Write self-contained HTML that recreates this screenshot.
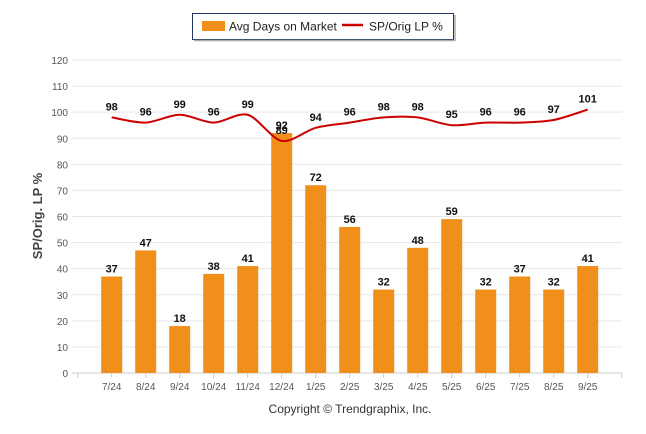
<!DOCTYPE html>
<html><head><meta charset="utf-8"><style>
body{margin:0;background:#fff;}
svg{display:block;font-family:"Liberation Sans",Arial,sans-serif;}
</style></head><body>
<svg id="c" width="646" height="434">
<g>
<rect x="192.5" y="13.5" width="261" height="26" fill="#fff" stroke="#1f3864" stroke-width="1"/>
<line x1="194" y1="40.5" x2="455" y2="40.5" stroke="#aaa" stroke-width="1.5"/>
<line x1="455" y1="15" x2="455" y2="41" stroke="#aaa" stroke-width="1.5"/>
<rect x="202" y="21" width="23" height="10" fill="#f0901a"/>
<text x="229" y="30.5" font-size="12" fill="#222">Avg Days on Market</text>
<line x1="342" y1="25" x2="363" y2="25" stroke="#cc0000" stroke-width="2.5"/>
<text x="369" y="30.5" font-size="12" fill="#222">SP/Orig LP %</text>
</g>
<g id="grid"></g>
<g id="bars"></g>
<g id="line"></g>
<text transform="translate(42,216) rotate(-90)" text-anchor="middle" font-size="13" font-weight="bold" fill="#444">SP/Orig. LP %</text>
<text x="350" y="413" text-anchor="middle" font-size="12" fill="#333">Copyright © Trendgraphix, Inc.</text>
</svg>
<script>
const categories=["7/24","8/24","9/24","10/24","11/24","12/24","1/25","2/25","3/25","4/25","5/25","6/25","7/25","8/25","9/25"];
const daysOnMarket=[37,47,18,38,41,92,72,56,32,48,59,32,37,32,41];
const spOrigLp=[98,96,99,96,99,89,94,96,98,98,95,96,96,97,101];
const yTicks=[0,10,20,30,40,50,60,70,80,90,100,110,120];
const NS="http://www.w3.org/2000/svg";
const x0=77.7,slot=34,y0=373,yTop=60,yMax=120;
function xs(i){return x0+slot*(i+1);}
function ys(v){return y0-(y0-yTop)*v/yMax;}
function mk(t,a,p){const e=document.createElementNS(NS,t);for(const k in a)e.setAttribute(k,a[k]);p.appendChild(e);return e;}
const g=document.getElementById('grid');
yTicks.forEach(v=>{
 const l=mk('line',{x1:72,x2:622,y1:ys(v),y2:ys(v),stroke:'#e6e6e6','stroke-width':1},g);
 
 
 const t=mk('text',{x:68,y:ys(v)+4,'text-anchor':'end','font-size':10,fill:'#555'},g);
 t.textContent=v;
 
 
});
mk('line',{x1:72,x2:622,y1:y0,y2:y0,stroke:'#ccc'},g);
for(let i=0;i<=16;i++){mk('line',{x1:x0+slot*i,x2:x0+slot*i,y1:y0,y2:y0+5,stroke:'#ccc'},g);}
const b=document.getElementById('bars');
categories.forEach((c,i)=>{
 const v=daysOnMarket[i];
 const r=mk('rect',{x:xs(i)-10.5,y:ys(v),width:21,height:y0-ys(v),fill:'#f0901a'},b);
 
 
 const t=mk('text',{x:xs(i),y:ys(v)-4,'text-anchor':'middle','font-size':11,'font-weight':'bold',fill:'#111'},b);
 t.textContent=v;
 
 
 const xl=mk('text',{x:xs(i),y:390,'text-anchor':'middle','font-size':10,fill:'#555'},b);
 xl.textContent=c;
 
 
});
const L=document.getElementById('line');
const pts=spOrigLp.map((v,i)=>[xs(i),ys(v)]);
let d='M'+pts[0][0]+','+pts[0][1];
for(let i=0;i<pts.length-1;i++){
 const p0=pts[Math.max(0,i-1)],p1=pts[i],p2=pts[i+1],p3=pts[Math.min(pts.length-1,i+2)];
 const k=0.15;
 d+=' C'+(p1[0]+(p2[0]-p0[0])*k)+','+(p1[1]+(p2[1]-p0[1])*k)+' '+(p2[0]-(p3[0]-p1[0])*k)+','+(p2[1]-(p3[1]-p1[1])*k)+' '+p2[0]+','+p2[1];
}
const path=mk('path',{d:d,fill:'none',stroke:'#cc0000','stroke-width':2},L);


spOrigLp.forEach((v,i)=>{
 const t=mk('text',{x:xs(i),y:ys(v)-7,'text-anchor':'middle','font-size':11,'font-weight':'bold',fill:'#111'},L);
 t.textContent=v;
 
 
});
</script>
</body></html>
